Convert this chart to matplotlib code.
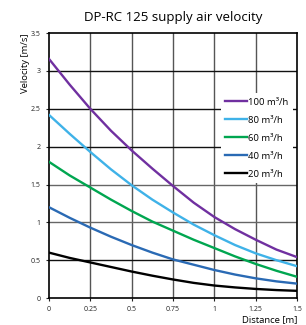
import matplotlib
matplotlib.use("Agg")
import matplotlib.pyplot as plt

distance = [0, 0.125, 0.25, 0.375, 0.5, 0.625, 0.75, 0.875, 1.0, 1.125, 1.25, 1.375, 1.5]
v100 = [3.16, 2.82, 2.50, 2.21, 1.95, 1.71, 1.48, 1.26, 1.07, 0.91, 0.77, 0.64, 0.54]
v80 = [2.42, 2.17, 1.93, 1.70, 1.49, 1.30, 1.13, 0.97, 0.83, 0.70, 0.59, 0.50, 0.42]
v60 = [1.80, 1.62, 1.46, 1.30, 1.15, 1.01, 0.89, 0.77, 0.66, 0.55, 0.45, 0.36, 0.28]
v40 = [1.20, 1.06, 0.93, 0.81, 0.70, 0.60, 0.51, 0.44, 0.37, 0.31, 0.26, 0.22, 0.19]
v20 = [0.60, 0.53, 0.47, 0.41, 0.35, 0.295, 0.245, 0.20, 0.165, 0.14, 0.12, 0.105, 0.095]
labels = ["100 m³/h", "80 m³/h", "60 m³/h", "40 m³/h", "20 m³/h"]
colors = ["#7030a0", "#3fb2e8", "#00a650", "#2a6ab4", "#000000"]
xticks = [0, 0.25, 0.5, 0.75, 1, 1.25, 1.5]
xticklabels = ["0", "0.25", "0.5", "0.75", "1", "1.25", "1.5"]
yticks = [0, 0.5, 1, 1.5, 2, 2.5, 3, 3.5]
yticklabels = ["0", "0.5", "1", "1.5", "2", "2.5", "3", "3.5"]

plt.rcParams["font.family"] = ["Open Sans", "DejaVu Sans"]
fig = plt.figure(figsize=(3.06, 3.25), dpi=100)
ax = fig.add_axes([0.160, 0.083, 0.811, 0.815])

# grid: vertical gray, some horizontals darker
for x in xticks[1:-1]:
    ax.axvline(x, color="#555555", lw=1.0, zorder=1)
for y in yticks[1:-1]:
    c = "#666666" if y in (1, 1.5) else "#111111"
    ax.axhline(y, color=c, lw=1.0, zorder=1)

for vals, lab, col in zip([v100, v80, v60, v40, v20], labels, colors):
    ax.plot(distance, vals, color=col, lw=1.7, label=lab, zorder=3)

ax.set_xlim(0, 1.5)
ax.set_ylim(0, 3.5)
ax.set_xticks(xticks)
ax.set_xticklabels(xticklabels)
ax.set_yticks(yticks)
ax.set_yticklabels(yticklabels)
ax.tick_params(labelsize=5, length=2, width=0.8, pad=4, colors="#222222")
for s in ax.spines.values():
    s.set_color("black")
    s.set_linewidth(1.2)

ax.set_title("DP-RC 125 supply air velocity", fontsize=9.5, pad=9)
ax.set_ylabel("Velocity [m/s]", fontsize=6.8)
ax.yaxis.set_label_coords(-0.095, 1.0)
ax.yaxis.label.set_va("center")
ax.yaxis.label.set_ha("right")
ax.set_xlabel("Distance [m]", fontsize=6.8, ha="right")
ax.xaxis.set_label_coords(1.0, -0.065)
ax.xaxis.label.set_va("top")

leg = ax.legend(loc="upper right", bbox_to_anchor=(0.985, 0.774), fontsize=6.8,
                frameon=True, facecolor="white", edgecolor="none", framealpha=1,
                fancybox=False, handlelength=2.3, handletextpad=0.15,
                labelspacing=0.95, borderpad=0.5, borderaxespad=0)
leg.set_zorder(5)

fig.savefig("out.png", dpi=100)
